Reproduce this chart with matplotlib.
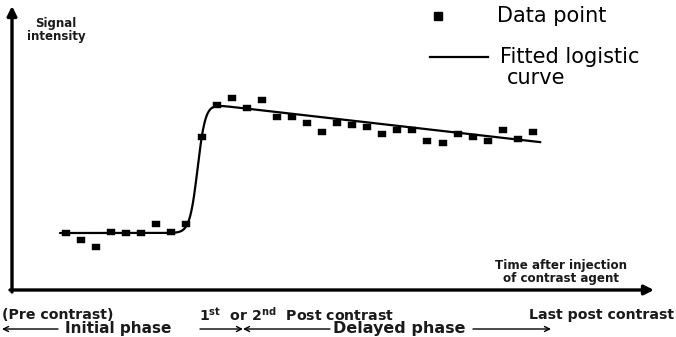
import numpy as np
import matplotlib
matplotlib.use("Agg")
import matplotlib.pyplot as plt

# ---- data ----
time_points = list(range(1, 33))
signal = [57, 50, 43, 58, 57, 57, 66, 58, 66, 153, 185, 192, 182, 190, 173, 173,
          167, 158, 167, 165, 163, 156, 160, 160, 149, 147, 156, 153, 149, 160, 151, 158]

# fitted logistic curve parameters
fit_base = 57.0
fit_amp = 130.0
fit_mid = 9.74
fit_scale = 0.26
fit_slope = -1.72
fit_t_start, fit_t_end = 0.6, 32.5

W, H = 676, 337
fig = plt.figure(figsize=(W / 100, H / 100), dpi=100)
ax = fig.add_axes([0, 0, 1, 1])
ax.set_axis_off()

# pixel -> data mapping (layout only)
PX_T1, PX_DT = 66.0, 15.06
def tx(px):
    return 1 + (px - PX_T1) / PX_DT
def sy(py):
    return 290 - py

ax.set_xlim(tx(0), tx(W))
ax.set_ylim(sy(H), sy(0))

TXT = "#1a1a1a"

# axes arrows
ax.annotate("", xy=(tx(12), sy(6)), xytext=(tx(12), sy(292)),
            arrowprops=dict(arrowstyle="-|>", lw=2.4, color="black",
                            mutation_scale=14, shrinkA=0, shrinkB=0))
ax.annotate("", xy=(tx(654), sy(290)), xytext=(tx(10), sy(290)),
            arrowprops=dict(arrowstyle="-|>", lw=2.4, color="black",
                            mutation_scale=14, shrinkA=0, shrinkB=0))

# fitted curve
t = np.linspace(fit_t_start, fit_t_end, 800)
sig = 1.0 / (1.0 + np.exp(-(t - fit_mid) / fit_scale))
curve = fit_base + (fit_amp + fit_slope * (t - fit_mid)) * sig
ax.plot(t, curve, color="black", lw=1.6, solid_capstyle="round")

# data points (small rectangles)
rect_marker = [(-1.4, -1), (1.4, -1), (1.4, 1), (-1.4, 1), (-1.4, -1)]
ax.plot(time_points, signal, linestyle="none", marker=rect_marker, ms=5.2,
        color="black", mec="black", mew=0.3)

# legend (manual, as in the original)
ax.plot([tx(438)], [sy(16)], marker="s", ms=5.5, color="black", linestyle="none")
ax.text(tx(497), sy(16), "Data point", fontsize=15, va="center", ha="left",
        family="DejaVu Sans")
ax.plot([tx(430), tx(488)], [sy(57), sy(57)], color="black", lw=1.6)
ax.text(tx(500), sy(57), "Fitted logistic", fontsize=15, va="center", ha="left",
        family="DejaVu Sans")
ax.text(tx(507), sy(78), "curve", fontsize=15, va="center", ha="left",
        family="DejaVu Sans")

# axis labels
ax.text(tx(56), sy(30), "Signal\nintensity", fontsize=8.5, fontweight="bold",
        ha="center", va="center", linespacing=1.05, color=TXT)
ax.text(tx(561), sy(272), "Time after injection\nof contrast agent", fontsize=8.6,
        fontweight="bold", ha="center", va="center", linespacing=1.05, color=TXT)

# bottom annotations
ax.text(tx(2), sy(315), "(Pre contrast)", fontsize=10.2, fontweight="bold",
        ha="left", va="center", color=TXT)
ax.text(tx(65), sy(329), "Initial phase", fontsize=11, fontweight="bold",
        ha="left", va="center", color=TXT)
ax.annotate("", xy=(tx(2), sy(329)), xytext=(tx(58), sy(329)),
            arrowprops=dict(arrowstyle="->", lw=1.0, color="black",
                            mutation_scale=9, shrinkA=0, shrinkB=0))

ax.text(tx(199), sy(315),
        r"1$^{\mathbf{st}}$  or 2$^{\mathbf{nd}}$  Post contrast",
        fontsize=10.2, fontweight="bold", ha="left", va="center", color=TXT)
ax.annotate("", xy=(tx(243), sy(329)), xytext=(tx(200), sy(329)),
            arrowprops=dict(arrowstyle="->", lw=1.0, color="black",
                            mutation_scale=9, shrinkA=0, shrinkB=0))
ax.annotate("", xy=(tx(243), sy(329)), xytext=(tx(330), sy(329)),
            arrowprops=dict(arrowstyle="->", lw=1.0, color="black",
                            mutation_scale=9, shrinkA=0, shrinkB=0))
ax.text(tx(333), sy(329), "Delayed phase", fontsize=11.5, fontweight="bold",
        ha="left", va="center", color=TXT)
ax.annotate("", xy=(tx(551), sy(329)), xytext=(tx(473), sy(329)),
            arrowprops=dict(arrowstyle="->", lw=1.0, color="black",
                            mutation_scale=9, shrinkA=0, shrinkB=0))
ax.text(tx(674), sy(315), "Last post contrast", fontsize=10.2, fontweight="bold",
        ha="right", va="center", color=TXT)

fig.savefig("out.png", dpi=100)
